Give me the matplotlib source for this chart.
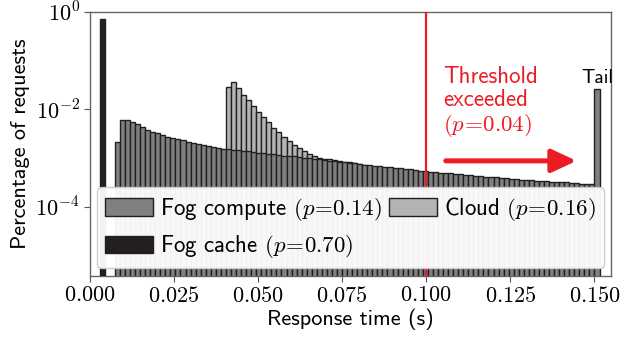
import numpy as np
import matplotlib
matplotlib.use("Agg")
import matplotlib.pyplot as plt
from matplotlib.patches import FancyArrowPatch

plt.rcParams["font.family"] = ["cmss10", "DejaVu Sans"]
plt.rcParams["mathtext.fontset"] = "cm"
plt.rcParams["axes.unicode_minus"] = False

C_COMPUTE = "#808082"
C_CLOUD = "#b4b4b7"
C_CACHE = "#231f20"
C_EDGE = "#231f20"
C_RED = "#ed1c24"

# ── Data: histogram of response times, bin width 1.5 ms ────────
BIN_W = 0.0015

cache_first_bin = 2
cache_vals = [0.70]

compute_first_bin = 5
compute_vals = [
    2.14e-3, 5.9e-3, 5.9e-3, 5.4e-3, 4.9e-3, 4.4e-3, 3.8e-3, 3.47e-3, 3.24e-3, 2.95e-3,
    2.69e-3, 2.57e-3, 2.40e-3, 2.29e-3, 2.14e-3, 2.04e-3, 1.91e-3, 1.82e-3, 1.74e-3, 1.70e-3,
    1.62e-3, 1.55e-3, 1.51e-3, 1.48e-3, 1.45e-3, 1.41e-3, 1.38e-3, 1.33e-3, 1.29e-3, 1.26e-3,
    1.23e-3, 1.20e-3, 1.16e-3, 1.12e-3, 1.10e-3, 1.07e-3, 1.05e-3, 1.01e-3, 9.8e-4, 9.5e-4,
    9.3e-4, 9.1e-4, 8.8e-4, 8.5e-4, 8.3e-4, 8.1e-4, 7.9e-4, 7.7e-4, 7.4e-4, 7.2e-4,
    7.1e-4, 6.9e-4, 6.8e-4, 6.6e-4, 6.5e-4, 6.3e-4, 6.2e-4, 6.0e-4, 5.8e-4, 5.6e-4,
    5.5e-4, 5.4e-4, 5.25e-4, 5.1e-4, 5.0e-4, 4.9e-4, 4.8e-4, 4.7e-4, 4.6e-4, 4.5e-4,
    4.4e-4, 4.3e-4, 4.2e-4, 4.1e-4, 4.0e-4, 3.98e-4, 3.9e-4, 3.8e-4, 3.7e-4, 3.67e-4,
    3.6e-4, 3.55e-4, 3.47e-4, 3.4e-4, 3.35e-4, 3.3e-4, 3.24e-4, 3.2e-4, 3.16e-4, 3.13e-4,
    3.1e-4, 3.0e-4, 2.98e-4, 2.95e-4, 2.9e-4,
    2.6e-2,  # tail bin (everything beyond 0.150 s)
]

cloud_first_bin = 27
cloud_vals = [
    2.9e-2, 3.6e-2, 2.75e-2, 2.0e-2, 1.55e-2, 1.17e-2, 8.9e-3, 6.9e-3, 5.4e-3, 4.2e-3,
    3.4e-3, 2.7e-3, 2.24e-3, 1.82e-3, 1.62e-3, 1.38e-3, 1.23e-3, 1.12e-3, 1.0e-3, 9.7e-4,
    9.3e-4, 9.0e-4, 8.7e-4, 8.4e-4, 8.1e-4, 7.8e-4, 7.5e-4, 7.2e-4, 6.9e-4,
]

labels = [r"Fog compute $(p\!=\!0.14)$", r"Cloud $(p\!=\!0.16)$", r"Fog cache $(p\!=\!0.70)$"]
threshold = 0.100
xticks = [0.000, 0.025, 0.050, 0.075, 0.100, 0.125, 0.150]
xtick_labels = [r"$0.000$", r"$0.025$", r"$0.050$", r"$0.075$", r"$0.100$", r"$0.125$", r"$0.150$"]
yticks = [1e0, 1e-2, 1e-4]
ytick_labels = [r"$10^{0}$", r"$10^{-2}$", r"$10^{-4}$"]


def bin_starts(first, n):
    return (first + np.arange(n)) * BIN_W


# ── Canvas ─────────────────────────────────────────────────────
fig = plt.figure(figsize=(6.2, 3.37), dpi=100)
ax = fig.add_axes([0.1445, 0.180, 0.8415, 0.785])

bar_kw = dict(width=BIN_W, align="edge", edgecolor=C_EDGE, linewidth=1.0)
h_cloud = ax.bar(bin_starts(cloud_first_bin, len(cloud_vals)), cloud_vals,
                 color=C_CLOUD, label=labels[1], zorder=2, **bar_kw)
h_comp = ax.bar(bin_starts(compute_first_bin, len(compute_vals)), compute_vals,
                color=C_COMPUTE, label=labels[0], zorder=3, **bar_kw)
h_cache = ax.bar(bin_starts(cache_first_bin, len(cache_vals)), cache_vals,
                 color=C_CACHE, label=labels[2], zorder=3, **bar_kw)

ax.axvline(threshold, color=C_RED, linewidth=1.6, zorder=4)

ax.set_yscale("log")
ax.set_ylim(3.7e-6, 1.0)
ax.set_xlim(0, 0.155)
ax.set_yticks(yticks)
ax.set_yticklabels(ytick_labels)
ax.minorticks_off()
ax.set_xticks(xticks)
ax.set_xticklabels(xtick_labels)
ax.tick_params(labelsize=16, direction="out", length=4, color="#555555", pad=3)
for s in ax.spines.values():
    s.set_color("#666666")
    s.set_linewidth(1.0)

ax.set_xlabel("Response time (s)", fontsize=16, labelpad=2)
ax.set_ylabel("Percentage of requests", fontsize=16, labelpad=4)

# ── Annotations ────────────────────────────────────────────────
ax.text(0.105, 0.078, "Threshold\nexceeded\n" + r"$(p\!=\!0.04)$",
        color=C_RED, fontsize=16.5, ha="left", va="top", linespacing=1.05, zorder=5)
arrow = FancyArrowPatch((0.105, 8.7e-4), (0.1455, 8.7e-4),
                        arrowstyle="-|>,head_length=0.75,head_width=0.35",
                        mutation_scale=20, color=C_RED, linewidth=3.6, zorder=5)
ax.add_patch(arrow)
ax.text(0.15075, 0.029, "Tail", fontsize=14, ha="center", va="bottom", zorder=5)

leg = ax.legend(handles=[h_comp, h_cache, h_cloud], labels=[labels[0], labels[2], labels[1]],
                ncol=2, loc="lower center", fontsize=16.5, handlelength=2.1,
                handleheight=0.8, handletextpad=0.3, columnspacing=0.3,
                labelspacing=0.45, borderaxespad=0.35, borderpad=0.35, framealpha=0.95,
                edgecolor="#cccccc", fancybox=True)
leg.set_zorder(6)

fig.savefig("out.png", dpi=100)
